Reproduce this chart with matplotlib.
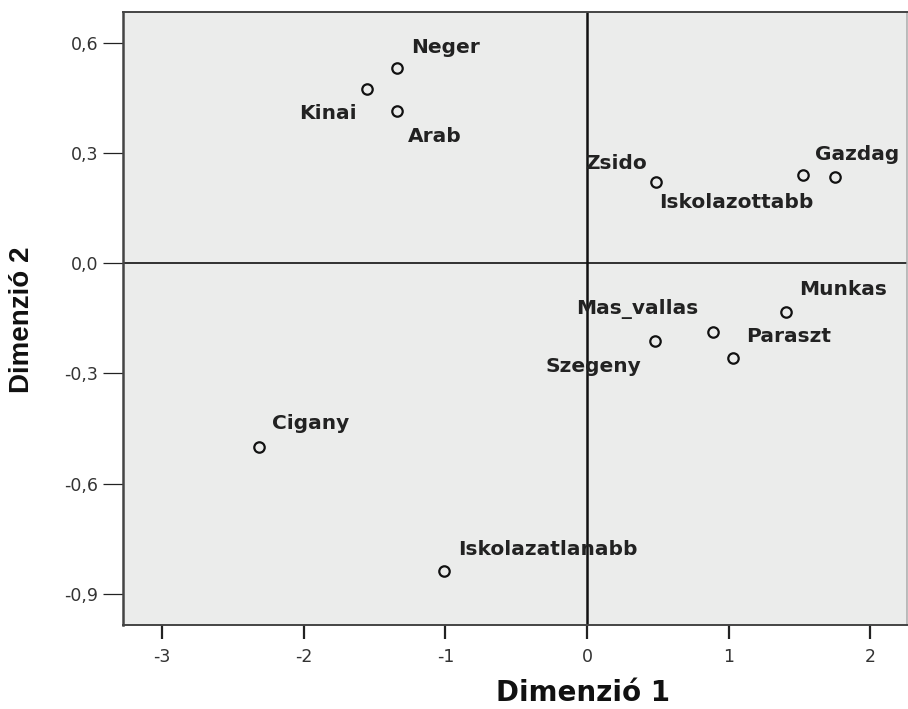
import matplotlib
matplotlib.use("Agg")
import matplotlib.pyplot as plt

# pontok (Dimenzió 1, Dimenzió 2)
labels = ["Neger", "Kinai", "Arab", "Zsido", "Iskolazottabb", "Gazdag",
          "Munkas", "Mas_vallas", "Paraszt", "Szegeny", "Cigany", "Iskolazatlanabb"]
dim1 = [-1.342, -1.554, -1.342, 0.487, 1.525, 1.751,
        1.405, 0.890, 1.031, 0.480, -2.316, -1.010]
dim2 = [0.531, 0.474, 0.414, 0.221, 0.240, 0.235,
        -0.133, -0.187, -0.258, -0.212, -0.500, -0.838]
xticks = [-3, -2, -1, 0, 1, 2]
yticks = [0.6, 0.3, 0.0, -0.3, -0.6, -0.9]

# cimke-elhelyezes: (dx, dy pixelben, igazitas)
LAB = {"Neger": (14, 23, "left"), "Kinai": (-10, -22, "right"), "Arab": (11, -23, "left"),
       "Zsido": (-9, 21, "right"), "Iskolazottabb": (-144, -25, "left"),
       "Gazdag": (-20, 24, "left"), "Munkas": (13, 25, "left"),
       "Mas_vallas": (-15, 25, "right"), "Paraszt": (13, 23, "left"),
       "Szegeny": (-14, -23, "right"), "Cigany": (13, 25, "left"),
       "Iskolazatlanabb": (14, 24, "left")}

W, H = 908, 709
fig = plt.figure(figsize=(W / 100, H / 100), dpi=100)
fig.patch.set_facecolor("white")
ax = fig.add_axes([123 / W, (H - 625) / H, 784 / W, 613 / H])
ax.set_facecolor("#ebeceb")
ax.set_xlim(-3.277, 2.26)
ax.set_ylim(-0.985, 0.684)

ax.axhline(0, color="#111111", lw=1.2, zorder=1)
ax.axvline(0, color="#111111", lw=1.8, zorder=1)

ax.plot(dim1, dim2, "o", ms=7.5, mfc="none", mec="#111111", mew=1.6, zorder=3)

for lab, x, y in zip(labels, dim1, dim2):
    dx, dy, ha = LAB[lab]
    ax.annotate(lab, (x, y), xytext=(dx, dy - 7.5), textcoords="offset pixels",
                ha=ha, va="baseline", fontsize=14.5, fontweight="bold",
                color="#222222", family="DejaVu Sans", zorder=4)

ax.set_xticks(xticks)
ax.set_xticklabels([str(t) for t in xticks])
ax.set_yticks(yticks)
ax.set_yticklabels([f"{t:.1f}".replace(".", ",") for t in yticks])
ax.tick_params(axis="x", length=10, width=1.6, pad=6.5, labelsize=12.5,
               labelcolor="#333333", color="#222222")
ax.tick_params(axis="y", length=14.4, width=0.9, pad=3.6, labelsize=12.5,
               labelcolor="#333333", color="#222222")

for s in ("left", "top", "bottom"):
    ax.spines[s].set_color("#444444")
ax.spines["left"].set_linewidth(1.8)
ax.spines["top"].set_linewidth(1.4)
ax.spines["bottom"].set_linewidth(1.4)
ax.spines["right"].set_color("#aaaaaa")
ax.spines["right"].set_linewidth(1.1)

fig.text(583 / W, (H - 701) / H, "Dimenzió 1", ha="center", va="baseline",
         fontsize=20, fontweight="bold", color="#111111", family="DejaVu Sans")
fig.text(22 / W, 1 - 320 / H, "Dimenzió 2", ha="center", va="center", rotation=90,
         fontsize=20, fontweight="bold", color="#111111", family="Liberation Sans")

fig.savefig("out.png", dpi=100)
